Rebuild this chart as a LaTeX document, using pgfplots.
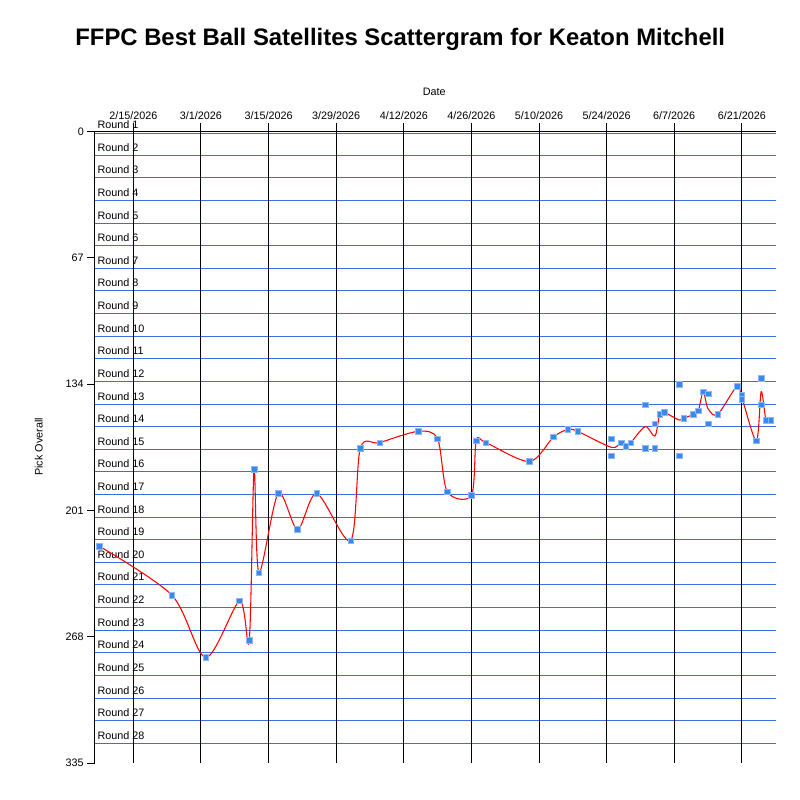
\documentclass[border=0pt]{standalone}
\usepackage{pgfplots}
\pgfplotsset{compat=1.18}
\usepackage{fontspec}
\setmainfont{Liberation Sans}
\definecolor{gridblue}{RGB}{65,105,225}
\definecolor{markblue}{RGB}{60,135,235}
\definecolor{markedge}{RGB}{140,185,245}

\pgfplotstableread{
day pick
-7 220
8 246
15 279
22 249
24 270
25 179
26 234
30 192
34 211
38 192
45 217
47 168
51 165
59 159
63 163
65 191
70 193
71 164
73 165
82 175
87 162
90 158
92 159
99 163
99 172
101 165
102 167
103 165
106 145
106 168
108 168
108 155
109 150
110 149
113 134
113 172
114 152
116 150
117 148
118 138
119 139
119 155
121 150
125 135
126 140
126 142
129 164
130 131
130 145
131 153
132 153
}\picks

\pgfplotstableread{
day pick
-7 220
8 246
15 279
22 249
24 270
25 179
26 234
30 192
34 211
38 192
45 217
47 168
51 165
59 159
63 163
65 191
70 193
71 164
73 165
82 175
87 162
90 158
92 159
99 167.5
101 165
102 167
103 165
106 156.5
108 161.5
109 150
110 149
113 153
114 152
116 150
117 148
118 138
119 147
121 150
125 135
126 141
129 164
130 138
131 153
132 153
}\avgs

\begin{document}
\fontsize{8.1}{9.7}\selectfont
\begin{tikzpicture}
\begin{axis}[
  scale only axis, width=510.75pt, height=473.5pt,
  xmin=-8, xmax=133, ymin=0, ymax=335, y dir=reverse,
  axis lines=none, clip=false,
]
% horizontal round lines
\draw[gridblue, line width=0.75pt] (axis cs:-8,1) -- (axis cs:133,1);
\pgfplotsinvokeforeach{1,...,27}{
  \draw[gridblue, line width=0.75pt] (axis cs:-8,{12*#1+0.5}) -- (axis cs:133,{12*#1+0.5});
}
% vertical date lines and ticks
\pgfplotsinvokeforeach{0,14,28,42,56,70,84,98,112,126}{
  \draw[black, line width=0.75pt] ([yshift=6.3pt]axis cs:#1,0) -- (axis cs:#1,335);
}
% axis lines
\draw[black, line width=0.75pt] ([xshift=-6pt]axis cs:-8,0) -- (axis cs:133,0);
\draw[black, line width=0.75pt] (axis cs:-8,0) -- (axis cs:-8,335);
% y ticks
\pgfplotsinvokeforeach{0,67,134,201,268,335}{
  \draw[black, line width=0.75pt] (axis cs:-8,#1) -- ([xshift=-6pt]axis cs:-8,#1);
  \node[anchor=east, inner sep=0pt] at ([xshift=-8pt]axis cs:-8,#1) {#1};
}
% x tick labels
\node[anchor=base, inner sep=0pt] at ([yshift=9.5pt]axis cs:0,0) {2/15/2026};
\node[anchor=base, inner sep=0pt] at ([yshift=9.5pt]axis cs:14,0) {3/1/2026};
\node[anchor=base, inner sep=0pt] at ([yshift=9.5pt]axis cs:28,0) {3/15/2026};
\node[anchor=base, inner sep=0pt] at ([yshift=9.5pt]axis cs:42,0) {3/29/2026};
\node[anchor=base, inner sep=0pt] at ([yshift=9.5pt]axis cs:56,0) {4/12/2026};
\node[anchor=base, inner sep=0pt] at ([yshift=9.5pt]axis cs:70,0) {4/26/2026};
\node[anchor=base, inner sep=0pt] at ([yshift=9.5pt]axis cs:84,0) {5/10/2026};
\node[anchor=base, inner sep=0pt] at ([yshift=9.5pt]axis cs:98,0) {5/24/2026};
\node[anchor=base, inner sep=0pt] at ([yshift=9.5pt]axis cs:112,0) {6/7/2026};
\node[anchor=base, inner sep=0pt] at ([yshift=9.5pt]axis cs:126,0) {6/21/2026};
% axis titles
\node[anchor=base, inner sep=0pt] at ([yshift=26.8pt]axis cs:62.3,0) {Date};
\node[anchor=base, inner sep=0pt, rotate=90] at ([xshift=-39pt]axis cs:-8,167.3) {Pick Overall};
\node[anchor=base, inner sep=0pt, font=\fontsize{17.9}{21}\selectfont\bfseries] at ([yshift=64.5pt]axis cs:55.27,0) {FFPC Best Ball Satellites Scattergram for Keaton Mitchell};
% round labels
\pgfplotsinvokeforeach{1,...,28}{
  \node[anchor=base west, inner sep=0pt] at ([xshift=2pt, yshift=3pt]axis cs:-8,{12*(#1-1)+0.5}) {Round #1};
}
% data
\addplot[only marks, mark=square*, mark size=2.1pt, mark options={fill=markblue, draw=markedge, line width=0.45pt}] table[x=day, y=pick] {\picks};
\addplot[red, line width=0.8pt, smooth, no markers] table[x=day, y=pick] {\avgs};
% bounding box
\path (axis cs:-27.607,-69.89) rectangle (axis cs:138.03,354.63);
\end{axis}
\end{tikzpicture}
\end{document}
